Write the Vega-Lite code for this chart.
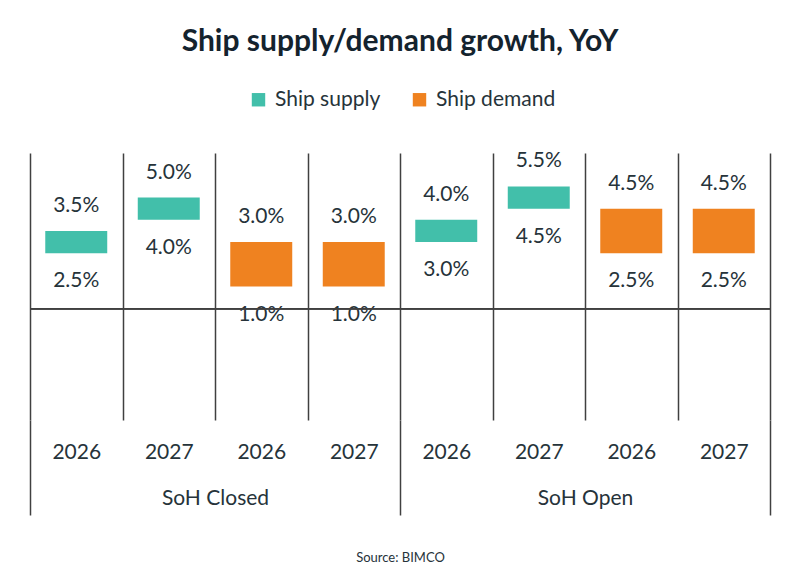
{
  "$schema": "https://vega.github.io/schema/vega-lite/v6.json",
  "width": 740,
  "height": 267,
  "autosize": {"type": "none"},
  "padding": {"left": 30, "right": 30, "top": 153, "bottom": 152},
  "background": "white",
  "config": {"view": {"stroke": null}, "font": "Lato"},
  "title": {
    "text": "Ship supply/demand growth, YoY",
    "font": "Lato",
    "fontSize": 30,
    "fontWeight": "bold",
    "color": "#14232e",
    "anchor": "middle",
    "offset": 32
  },
  "data": {
    "values": [
      {"key": "SoH Closed|2026|supply", "scenario": "SoH Closed", "year": "2026", "series": "Ship supply", "low": 0.025, "high": 0.035},
      {"key": "SoH Closed|2027|supply", "scenario": "SoH Closed", "year": "2027", "series": "Ship supply", "low": 0.040, "high": 0.050},
      {"key": "SoH Closed|2026|demand", "scenario": "SoH Closed", "year": "2026", "series": "Ship demand", "low": 0.010, "high": 0.030},
      {"key": "SoH Closed|2027|demand", "scenario": "SoH Closed", "year": "2027", "series": "Ship demand", "low": 0.010, "high": 0.030},
      {"key": "SoH Open|2026|supply", "scenario": "SoH Open", "year": "2026", "series": "Ship supply", "low": 0.030, "high": 0.040},
      {"key": "SoH Open|2027|supply", "scenario": "SoH Open", "year": "2027", "series": "Ship supply", "low": 0.045, "high": 0.055},
      {"key": "SoH Open|2026|demand", "scenario": "SoH Open", "year": "2026", "series": "Ship demand", "low": 0.025, "high": 0.045},
      {"key": "SoH Open|2027|demand", "scenario": "SoH Open", "year": "2027", "series": "Ship demand", "low": 0.025, "high": 0.045}
    ]
  },
  "layer": [
    {
      "encoding": {
        "x": {
          "field": "key",
          "type": "nominal",
          "sort": null,
          "scale": {"paddingInner": 0, "paddingOuter": 0},
          "axis": {
            "orient": "bottom",
            "title": null,
            "tickBand": "extent",
            "grid": true,
            "gridColor": "#404040",
            "gridWidth": 1.5,
            "gridOpacity": 1,
            "ticks": false,
            "domain": false,
            "labelExpr": "split(datum.value, '|')[1]",
            "labelFont": "Lato",
            "labelFontSize": 21,
            "labelColor": "#26333a",
            "labelPadding": 32,
            "labelBaseline": "middle",
            "labelAngle": 0
          }
        }
      },
      "layer": [
        {
          "mark": {"type": "bar", "width": {"band": 0.67}},
          "encoding": {
            "y": {"field": "low", "type": "quantitative", "scale": {"domain": [-0.05, 0.07], "nice": false, "zero": false}, "axis": null},
            "y2": {"field": "high"},
            "color": {
              "field": "series",
              "type": "nominal",
              "scale": {"domain": ["Ship supply", "Ship demand"], "range": ["#42bfaa", "#ef8220"]},
              "legend": {
                "orient": "none",
                "legendX": 218,
                "legendY": -64,
                "direction": "horizontal",
                "title": null,
                "symbolType": "square",
                "symbolSize": 180,
                "symbolStrokeWidth": 0,
                "labelFont": "Lato",
                "labelFontSize": 21,
                "labelColor": "#26333a",
                "labelOffset": 6,
                "columnPadding": 28
              }
            }
          }
        },
        {
          "mark": {"type": "text", "baseline": "middle", "dy": -25, "fontSize": 21, "color": "#26333a", "font": "Lato"},
          "encoding": {
            "y": {"field": "high", "type": "quantitative"},
            "text": {"field": "high", "type": "quantitative", "format": ".1%"}
          }
        },
        {
          "mark": {"type": "text", "baseline": "middle", "dy": 28, "fontSize": 21, "color": "#26333a", "font": "Lato"},
          "encoding": {
            "y": {"field": "low", "type": "quantitative"},
            "text": {"field": "low", "type": "quantitative", "format": ".1%"}
          }
        }
      ]
    },
    {
      "mark": {"type": "bar", "fill": null, "stroke": "#404040", "strokeWidth": 1.5, "width": {"band": 1}},
      "encoding": {
        "x": {
          "field": "scenario",
          "type": "nominal",
          "sort": null,
          "scale": {"paddingInner": 0, "paddingOuter": 0},
          "axis": {
            "orient": "bottom",
            "title": "Source: BIMCO",
            "titleFont": "Lato",
            "titleFontSize": 13,
            "titleFontWeight": "normal",
            "titleColor": "#26333a",
            "titlePadding": 36,
            "tickBand": "extent",
            "grid": false,
            "ticks": true,
            "tickSize": 95,
            "tickColor": "#404040",
            "tickWidth": 1.5,
            "domain": false,
            "labelFont": "Lato",
            "labelFontSize": 21,
            "labelColor": "#26333a",
            "labelPadding": -17,
            "labelBaseline": "middle",
            "labelAngle": 0
          }
        },
        "y": {"datum": 0, "type": "quantitative"},
        "y2": {"datum": 0}
      }
    }
  ],
  "resolve": {"scale": {"x": "independent"}, "axis": {"x": "independent"}}
}
